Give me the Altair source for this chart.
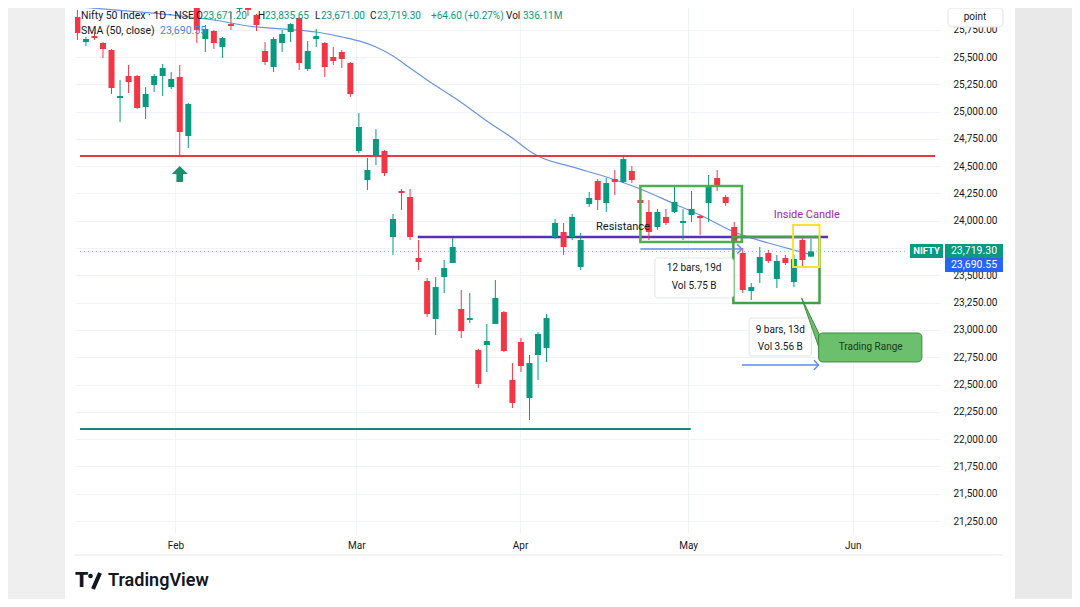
import altair as alt
import pandas as pd

# ---------------- data ----------------
bar = list(range(-1, 86))
opens = [25866, 25637, 25692, 25628, 25564, 25124, 25326, 25326, 25042, 25244, 25326, 25225, 25317, 24776,
         25985, 25665, 25738, 25592, 25802, 25940, 25985, 25885, 25555, 25408, 25628, 25729, 25857, 25390,
         25665, 25628, 25500, 25546, 25445, 24639, 24373, 24593, 24639, 23851, 24273, 24218, 23659, 23448,
         23100, 23485, 23613, 23192, 23091, 22816, 22862, 23055, 23164, 22542, 22890, 22377, 22771, 22835,
         23851, 23897, 23851, 23577, 24154, 24364, 24163, 24383, 24355, 24456, 24190, 24081, 23943, 24035,
         24081, 23980, 24053, 24044, 24163, 24392, 24218, 23943, 23705, 23357, 23522, 23705, 23467, 23659,
         23439, 23824, 23671.20]
highs = [25931, 25683, 25729, 25637, 25573, 25289, 25427, 25335, 25225, 25344, 25436, 25363, 25427, 25079,
         26004, 25793, 25747, 25683, 25912, 25995, 26004, 25894, 25637, 25683, 25747, 25811, 25866, 25647,
         25757, 25637, 25592, 25564, 25454, 24987, 24575, 24840, 24648, 24062, 24291, 24291, 23824, 23476,
         23485, 23641, 23842, 23366, 23338, 22826, 23055, 23457, 23173, 22697, 22926, 22771, 22981, 23146,
         24016, 23980, 24062, 23888, 24264, 24383, 24392, 24465, 24593, 24502, 24209, 24190, 24108, 24108,
         24318, 24108, 24273, 24053, 24419, 24465, 24236, 23989, 23751, 23430, 23760, 23732, 23687, 23687,
         23687, 23842, 23835.65]
lows = [25656, 25601, 25656, 25491, 25161, 24905, 25170, 25024, 24932, 25179, 25143, 25207, 24600, 24667,
        25628, 25546, 25573, 25491, 25747, 25912, 25876, 25738, 25427, 25363, 25546, 25637, 25381, 25372,
        25592, 25317, 25427, 25399, 25134, 24621, 24281, 24510, 24410, 23687, 24099, 23824, 23549, 23119,
        22954, 23338, 23613, 22926, 23064, 22468, 22615, 23055, 22798, 22285, 22615, 22175, 22542, 22707,
        23833, 23687, 23824, 23549, 24126, 24099, 24081, 24236, 24346, 24346, 24145, 23824, 23915, 23961,
        24071, 23824, 23989, 23870, 23989, 24273, 24136, 23796, 23338, 23274, 23430, 23613, 23384, 23595,
        23393, 23577, 23671.00]
closes = [25720, 25665, 25674, 25573, 25216, 25143, 25271, 25033, 25161, 25326, 25399, 25299, 24813, 25070,
          25747, 25757, 25628, 25674, 25784, 25967, 25931, 25793, 25454, 25665, 25711, 25802, 25445, 25555,
          25692, 25408, 25463, 25482, 25161, 24859, 24465, 24749, 24437, 24016, 24254, 23851, 23623, 23146,
          23393, 23567, 23760, 22990, 23109, 22505, 22899, 23293, 22807, 22331, 22670, 22697, 22963, 23109,
          23980, 23760, 24035, 23824, 24209, 24190, 24346, 24355, 24565, 24373, 24163, 23897, 24081, 23980,
          24172, 23998, 24108, 24025, 24309, 24318, 24163, 23806, 23366, 23393, 23668, 23632, 23632, 23613,
          23650, 23641, 23719.30]

sma_bar = [-0.7, 5, 10, 15, 19, 23, 27, 30, 32, 34, 36, 38, 40, 43.6, 47, 50, 52, 53, 57, 61, 65, 69,
           72, 76, 80, 83, 85]
sma_val = [25958, 25921, 25885, 25839, 25784, 25757, 25729, 25683, 25647, 25592, 25509, 25399, 25289,
           25106, 24914, 24758, 24639, 24593, 24493, 24401, 24291, 24154, 24053, 23897, 23796, 23732, 23690.55]

month_pos = [10.5, 31.7, 50.9, 70.6, 89.9]
month_lab = ["Feb", "Mar", "Apr", "May", "Jun"]
price_ticks = list(range(21250, 25751, 250))
hidden_tick = 23750  # covered by the last-price tag

last_change = 64.60
last_pct = 0.27
last_vol = "336.11M"

# drawing objects (bar index / price)
support_red = 24593
support_teal = 22093
resistance = 23851

# ---------------- styles ----------------
GREEN = "#089981"
RED = "#f23645"
FONT = "Roboto"
TXT = "#131722"
X0, X1 = -0.695, 99.54
Y0, Y1 = 21140.3, 25948.8

xs = alt.Scale(domain=[X0, X1], nice=False, zero=False)
ys = alt.Scale(domain=[Y0, Y1], nice=False, zero=False)
label_expr = "[" + ",".join(f"'{m}'" for m in month_lab) + "][indexof([" + ",".join(str(p) for p in month_pos) + "], datum.value)]"
xaxis = alt.Axis(values=month_pos, labelExpr=label_expr, title=None, grid=True, gridColor="#f0f3fa",
                 domain=False, ticks=False, labelPadding=7, labelFontSize=10, labelFont=FONT,
                 labelColor=TXT, zindex=0)
yaxis = alt.Axis(orient="right", values=price_ticks,
                 labelExpr=f"datum.value == {hidden_tick} ? '' : format(datum.value, ',.2f')",
                 title=None, grid=True,
                 gridColor="#f0f3fa", domain=False, ticks=False, labelPadding=13, labelAlign="left",
                 labelFontSize=10, labelFont=FONT, labelColor=TXT, zindex=0, labelOverlap=False)


def X(f):
    return alt.X(f"{f}:Q", scale=xs, axis=xaxis)


def Y(f):
    return alt.Y(f"{f}:Q", scale=ys, axis=yaxis)


layers = []

# side strips of the screenshot
layers.append(alt.Chart(pd.DataFrame({"a": [0]})).mark_rect(color="#efefef").encode(
    x=alt.value(-67), x2=alt.value(-10), y=alt.value(0), y2=alt.value(591)))
layers.append(alt.Chart(pd.DataFrame({"a": [0]})).mark_rect(color="#e9e9e9").encode(
    x=alt.value(940), x2=alt.value(997), y=alt.value(0), y2=alt.value(591)))

cdf = pd.DataFrame({"bar": bar, "open": opens, "high": highs, "low": lows, "close": closes})
cdf["dir"] = ["up" if c >= o else "down" for o, c in zip(opens, closes)]
ccol = alt.Color("dir:N", scale=alt.Scale(domain=["up", "down"], range=[GREEN, RED]), legend=None)


def hline(x0, x1, y, color, width, dash=None):
    d = pd.DataFrame({"x0": [x0], "x1": [x1], "y": [y]})
    kw = dict(color=color, strokeWidth=width, clip=True)
    if dash:
        kw["strokeDash"] = dash
    return alt.Chart(d).mark_rule(**kw).encode(x=X("x0"), x2="x1", y=Y("y"))


# current price dotted line
layers.append(hline(X0, 96.1, closes[-1], "#8fcfbf", 1, [1, 3]))

# SMA
sdf = pd.DataFrame({"bar": sma_bar, "sma": sma_val})
layers.append(alt.Chart(sdf).mark_line(color="#6b93e3", strokeWidth=1.2, interpolate="monotone", clip=True)
              .encode(x=X("bar"), y=Y("sma")))

# support / resistance lines
layers.append(hline(X0, X1, support_red, "#e53946", 2))
layers.append(hline(X0, 70.9, support_teal, "#13897a", 2))
layers.append(hline(38.9, 87.0, resistance, "#5b2fb8", 2.5))

# candles
layers.append(alt.Chart(cdf).mark_rule(strokeWidth=1, clip=True).encode(
    x=X("bar"), y=Y("low"), y2="high", color=ccol))
layers.append(alt.Chart(cdf).mark_bar(size=6, clip=True).encode(
    x=X("bar"), y=Y("open"), y2="close", color=ccol))


def box(x0, x1, y0, y1, stroke, width, fill=None, radius=0):
    d = pd.DataFrame({"x0": [x0], "x1": [x1], "y0": [y0], "y1": [y1]})
    kw = dict(stroke=stroke, strokeWidth=width, cornerRadius=radius)
    if fill:
        kw["fill"] = fill
        kw["fillOpacity"] = 1
    else:
        kw["fillOpacity"] = 0
        kw["fill"] = "white"
    return alt.Chart(d).mark_rect(**kw).encode(x=X("x0"), x2="x1", y=Y("y0"), y2="y1")


# green range boxes and inside-candle box
layers.append(box(65.0, 76.9, 24318, 23806, "#4caf50", 2.5))
layers.append(box(75.9, 86.0, 23851, 23247, "#43a047", 2.5))
layers.append(box(82.9, 86.0, 23961, 23577, "#f5e330", 2))

# blue measure arrows
layers.append(hline(65.0, 76.9, 23741, "#5b8def", 1.4))
layers.append(hline(76.9, 85.9, 22679, "#5b8def", 1.4))
adf = pd.DataFrame({"x": [76.9, 85.9], "y": [23741, 22679]})
layers.append(alt.Chart(adf).mark_point(shape="M-1,-1L0,0L-1,1", filled=False, strokeWidth=1.4,
                                        size=90, color="#5b8def", opacity=1).encode(x=X("x"), y=Y("y")))

# info boxes
layers.append(box(66.7, 75.9, 23659, 23293, "#e0e3eb", 1, fill="white", radius=3))
layers.append(box(77.75, 85.05, 23110, 22761, "#e0e3eb", 1, fill="white", radius=3))

# trading range callout
pdf = pd.DataFrame({"x": [83.9, 85.95], "y": [23293, 22963], "y2": [23293, 22835]})
layers.append(alt.Chart(pdf).mark_area(color="#6cbf6c", stroke="#3b8b3b", strokeWidth=1, opacity=1)
              .encode(x=X("x"), y=Y("y"), y2="y2"))
layers.append(box(85.9, 98.0, 22972, 22707, "#3b8b3b", 1, fill="#6cbf6c", radius=4))

# up arrow under the Feb low
layers.append(alt.Chart(pd.DataFrame({"x": [11], "y": [24428]})).mark_point(
    shape="M0,-1L1,0L0.42,0L0.42,1L-0.42,1L-0.42,0L-1,0Z", filled=True, size=256,
    color="#1e8c6e", opacity=1).encode(x=X("x"), y=Y("y")))


def dtext(x, y, t, color=TXT, size=10, align="center", weight="normal"):
    d = pd.DataFrame({"x": [x], "y": [y], "t": [t]})
    return alt.Chart(d).mark_text(color=color, fontSize=size, align=align, baseline="middle",
                                  font=FONT, fontWeight=weight).encode(x=X("x"), y=Y("y"), text="t:N")


layers.append(dtext(71.3, 23568, "12 bars, 19d"))
layers.append(dtext(71.3, 23403, "Vol 5.75 B"))
layers.append(dtext(81.4, 23000, "9 bars, 13d"))
layers.append(dtext(81.4, 22844, "Vol 3.56 B"))
layers.append(dtext(59.8, 23943, "Resistance", size=11, align="left"))
layers.append(dtext(84.5, 24053, "Inside Candle", color="#9c27b0", size=11))
layers.append(dtext(92.0, 22840, "Trading Range", color="#1c3a1c", size=10))


def ptext(px, py, t, color=TXT, size=10.5, align="left", weight="normal", baseline="middle"):
    return alt.Chart(pd.DataFrame({"t": [t]})).mark_text(
        color=color, fontSize=size, align=align, baseline=baseline, font=FONT, fontWeight=weight
    ).encode(x=alt.value(px), y=alt.value(py), text="t:N")


def prect(x0, x1, y0, y1, fill, stroke=None, radius=0):
    kw = dict(fill=fill, cornerRadius=radius)
    if stroke:
        kw["stroke"] = stroke
        kw["strokeWidth"] = 1
    return alt.Chart(pd.DataFrame({"a": [0]})).mark_rect(**kw).encode(
        x=alt.value(x0), x2=alt.value(x1), y=alt.value(y0), y2=alt.value(y1))


# legend header
fmt = lambda v: f"{v:,.2f}"
layers.append(ptext(6, 8, "Nifty 50 Index · 1D · NSE"))
hdr = [("O", 121, fmt(opens[-1]), 128), ("H", 183, fmt(highs[-1]), 190),
       ("L", 240, fmt(lows[-1]), 246), ("C", 295, fmt(closes[-1]), 302)]
for lab, lx, val, vx in hdr:
    layers.append(ptext(lx, 8, lab, size=10))
    layers.append(ptext(vx, 8, val, color=GREEN, size=10))
layers.append(ptext(356, 8, f"+{last_change:.2f} (+{last_pct:.2f}%)", color=GREEN, size=10))
layers.append(ptext(431, 8, "Vol", size=10))
layers.append(ptext(448, 8, last_vol, color=GREEN, size=10))
layers.append(ptext(6, 23, "SMA (50, close)"))
layers.append(ptext(85, 23, fmt(sma_val[-1]), color="#4f7fe8"))

# right-side price tags
layers.append(prect(835, 868, 236, 250, GREEN))
layers.append(ptext(851.5, 243, "NIFTY", color="white", size=9.5, align="center", weight="bold"))
layers.append(prect(870, 928, 236, 250, GREEN))
layers.append(ptext(899, 243, fmt(closes[-1]), color="white", size=10.5, align="center"))
layers.append(prect(870, 928, 250, 264, "#2962ff"))
layers.append(ptext(899, 257, fmt(sma_val[-1]), color="white", size=10.5, align="center"))

# "point" button
layers.append(prect(873, 928, 0, 19, "white", stroke="#e0e3eb", radius=4))
layers.append(ptext(900, 9, "point", size=10, align="center"))

# bottom rule of the time scale
layers.append(alt.Chart(pd.DataFrame({"a": [0]})).mark_rule(color="#e6e8ee", strokeWidth=1).encode(
    x=alt.value(0), x2=alt.value(928), y=alt.value(547)))

# TradingView logo
layers.append(ptext(0, 573, "T", size=21, weight=900, color="#131722"))
layers.append(alt.Chart(pd.DataFrame({"a": [0]})).mark_point(shape="circle", filled=True, size=22,
                                                             color="#131722", opacity=1).encode(
    x=alt.value(15.5), y=alt.value(568)))
layers.append(alt.Chart(pd.DataFrame({"a": [0]})).mark_rule(color="#131722", strokeWidth=4).encode(
    x=alt.value(18), x2=alt.value(25), y=alt.value(581), y2=alt.value(565)))
layers.append(ptext(33, 573, "TradingView", size=18, weight=600, color="#131722"))

chart = alt.layer(*layers).properties(
    width=865, height=525,
    autosize=alt.AutoSizeParams(type="none"),
    padding={"left": 67, "top": 0, "right": 132, "bottom": 66},
    background="white",
).configure_view(stroke=None)

chart.save("out.html", embed_options={"renderer": "svg", "actions": False})
